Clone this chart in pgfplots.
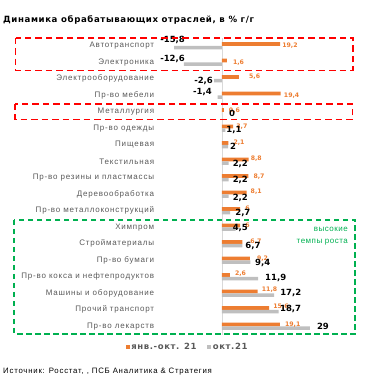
\documentclass[border=0pt]{standalone}
\usepackage{fontspec}
\setmainfont{Liberation Sans}
\newfontfamily\djv{DejaVu Sans}
\newfontfamily\ttl[LetterSpace=7]{DejaVu Sans}
\newfontfamily\lbl[LetterSpace=10]{Liberation Sans}
\newfontfamily\lbg[LetterSpace=6]{Liberation Sans}
\usepackage{pgfplots}
\pgfplotsset{compat=1.18}
\usepackage{pgfplotstable}
\definecolor{cOr}{HTML}{ED7D31}
\definecolor{cGr}{HTML}{BFBFBF}
\definecolor{cTx}{HTML}{595959}
\definecolor{cGn}{HTML}{00B050}
\definecolor{cRd}{HTML}{FF0000}
\definecolor{cAx}{HTML}{D9D9D9}

\pgfplotstableread{
i v dx dy
17 19.2 2 0.3
16 1.6 6 -0.3
15 5.6 10 1.7
14 19.4 3 -0.5
13 0.6 5 1.5
12 3.7 3 1.5
11 2.1 5 2
10 8.8 2 2.5
9 8.7 5 1.5
8 8.1 4 2.5
7 6 5 2.5
6 6 5 2
5 6.7 8 2
4 9.2 7 1.5
3 2.6 5 3
2 11.8 4 4
1 15.6 4 3.5
0 19.1 5 1.5
}\tOr

\pgfplotstableread{
i v dx dy
17 -15.8 11 6.3
16 -12.6 1.2 3.3
15 -2.6 -1 -2.3
14 -1.4 -5.8 3.6
13 0 7 -1.2
12 1.1 1 -2
11 2 2 -2
10 2.2 4 -3
9 2.2 4 -2
8 2.2 4 -4
7 2.7 5 -2
6 4.5 -3 -1
5 6.7 3 -2
4 9.4 4.5 -2.8
3 11.9 7 -1.3
2 17.2 6 0
1 18.7 1.3 0.8
0 29 7 0
}\tGr

\begin{document}
\begin{tikzpicture}[x=1pt,y=1pt]
\useasboundingbox (0,0) rectangle (368,378);
\begin{axis}[
  at={(155.3pt,43.45pt)}, anchor=south west,
  scale only axis, width=181.8pt, height=297pt,
  xmin=-22, xmax=38, ymin=-0.5, ymax=17.5,
  axis line style={draw=none},
  xtick=\empty,
  ytick={0,...,17},
  yticklabels={Пр-во лекарств, Прочий транспорт, Машины и оборудование, Пр-во кокса и нефтепродуктов, Пр-во бумаги, Стройматериалы, Химпром, Пр-во металлоконструкций, Деревообработка, Пр-во резины и пластмассы, Текстильная, Пищевая, Пр-во одежды, Металлургия, Пр-во мебели, Электрооборудование, Электроника, Автотранспорт},
  major tick length=0pt,
  yticklabel style={font=\lbl\fontsize{8}{9}\selectfont, color=cTx, inner sep=0pt, xshift=-1pt},
  /pgf/number format/.cd, use comma, assume math mode=true,
  /pgfplots/.cd,
  legend image code/.code={\fill[#1] (0pt,-2.15pt) rectangle (4.3pt,2.15pt);},
  legend style={at={(axis description cs:0.176,-0.042)}, anchor=center, draw=none, fill=none,
    legend columns=2, font=\ttl\bfseries\fontsize{8.5}{10}\selectfont, text=cTx,
    inner sep=0pt, /tikz/every even column/.append style={column sep=9pt},
    nodes={inner sep=1.5pt}},
  clip=false,
]
\draw[cAx, line width=0.8pt] (axis cs:0,-0.5) -- (axis cs:0,17.5);
\addplot[xbar, fill=cOr, draw=none, bar width=3.7pt, bar shift=1.85pt,
  visualization depends on={\thisrow{dx}\as\dx},
  visualization depends on={\thisrow{dy}\as\dy},
  nodes near coords,
  nodes near coords style={font=\djv\bfseries\fontsize{6.2}{7}\selectfont, text=cOr, inner sep=0pt, xshift=\dx pt, yshift=\dy pt},
] table[x=v, y=i] {\tOr};
\addlegendentry{янв.-окт. 21}
\addplot[xbar, fill=cGr, draw=none, bar width=3.7pt, bar shift=-1.85pt,
  visualization depends on={\thisrow{dx}\as\dx},
  visualization depends on={\thisrow{dy}\as\dy},
  nodes near coords,
  nodes near coords style={font=\djv\bfseries\fontsize{8.5}{10}\selectfont, text=black, inner sep=0pt, xshift=\dx pt, yshift=\dy pt},
] table[x=v, y=i] {\tGr};
\addlegendentry{окт.21}
\end{axis}
\draw[cRd, line width=1.7pt, dash pattern=on 6.5pt off 4pt] (15.5,340.3) rectangle (352.7,307.5);
\draw[cRd, line width=1.7pt, dash pattern=on 6.5pt off 4pt] (15,274) rectangle (352.5,258.5);
\draw[cGn, line width=1.5pt, dash pattern=on 5.5pt off 3.5pt] (14,158) rectangle (355,44);
\node[anchor=west, inner sep=0pt, font=\ttl\bfseries\fontsize{8.6}{10}\selectfont] at (3,358) {Динамика обрабатывающих отраслей, в \% г/г};
\node[anchor=west, inner sep=0pt, font=\lbl\fontsize{7.8}{9}\selectfont] at (3,6) {Источник: Росстат, , ПСБ Аналитика \& Стратегия};
\node[anchor=east, inner sep=0pt, text=cGn, font=\lbg\fontsize{8}{9}\selectfont] at (348,149) {высокие};
\node[anchor=east, inner sep=0pt, text=cGn, font=\lbg\fontsize{8}{9}\selectfont] at (348,136) {темпы роста};
\end{tikzpicture}
\end{document}
